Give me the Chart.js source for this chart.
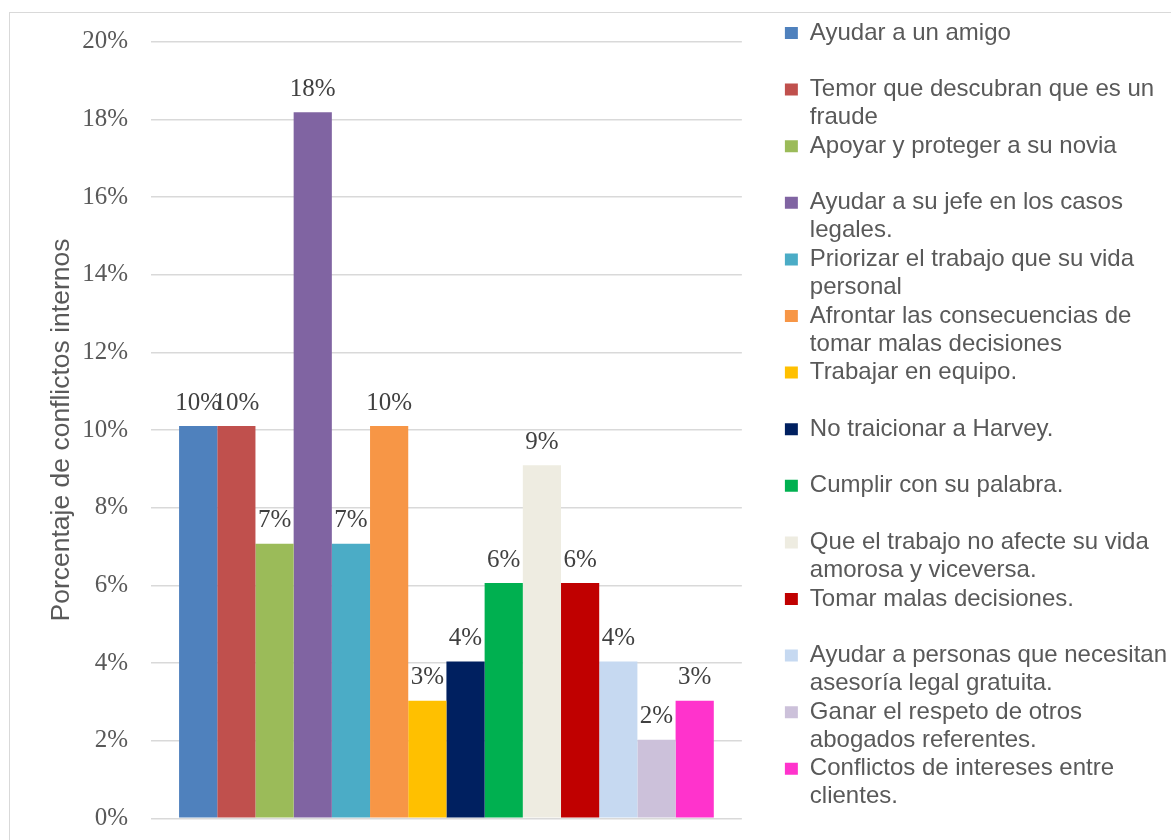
<!DOCTYPE html>
<html>
<head>
<meta charset="utf-8">
<script src="https://cdn.jsdelivr.net/npm/chart.js@4.4.1/dist/chart.umd.min.js"></script>
<style>
  html, body { margin: 0; padding: 0; background: #ffffff; overflow: hidden; width: 1171px; height: 840px; }
  #wrap { position: absolute; left: 9px; top: 12px; width: 1175px; height: 830px; border: 1px solid #d9d9d9; background: #fff; }
  #c { display: block; }
</style>
</head>
<body>
<div id="wrap"><canvas id="c" width="1167" height="830"></canvas></div>
<script>
// ---- data ----
const seriesLabels = [
  ["Ayudar a un amigo", ""],
  ["Temor que descubran que es un", "fraude"],
  ["Apoyar y proteger a su novia", ""],
  ["Ayudar a su jefe en los casos", "legales."],
  ["Priorizar el trabajo que su vida", "personal"],
  ["Afrontar las consecuencias de", "tomar malas decisiones"],
  ["Trabajar en equipo.", ""],
  ["No traicionar a Harvey.", ""],
  ["Cumplir con su palabra.", ""],
  ["Que el trabajo no afecte su vida", "amorosa y viceversa."],
  ["Tomar malas decisiones.", ""],
  ["Ayudar a personas que necesitan", "asesoría legal gratuita."],
  ["Ganar el respeto de otros", "abogados referentes."],
  ["Conflictos de intereses entre", "clientes."]
];
const values = [10.1, 10.1, 7.07, 18.18, 7.07, 10.1, 3.03, 4.04, 6.06, 9.09, 6.06, 4.04, 2.02, 3.03];
const colors = ["#4F81BD", "#C0504D", "#9BBB59", "#8064A2", "#4BACC6", "#F79646", "#FFC000",
                "#002060", "#00B050", "#EEECE1", "#C00000", "#C6D9F1", "#CCC1DA", "#FF33CC"];
const categoryLabels = [""];
const yAxisTitle = "Porcentaje de conflictos internos";

// ---- chart ----
const datasets = seriesLabels.map((lab, i) => ({
  label: lab,
  data: [values[i]],
  backgroundColor: colors[i],
  borderWidth: 0,
  categoryPercentage: 0.905,
  barPercentage: 1.0
}));

const serifFont = '"Liberation Serif", "DejaVu Serif", serif';

const dataLabelPlugin = {
  id: 'dataLabels',
  afterDatasetsDraw(chart) {
    const ctx = chart.ctx;
    ctx.save();
    ctx.font = '25px ' + serifFont;
    ctx.fillStyle = '#404040';
    ctx.textAlign = 'center';
    ctx.textBaseline = 'middle';
    chart.data.datasets.forEach((ds, i) => {
      const meta = chart.getDatasetMeta(i);
      meta.data.forEach((el, j) => {
        const v = ds.data[j];
        ctx.fillText(Math.round(v) + '%', el.x, el.y - 23);
      });
    });
    ctx.restore();
  }
};

new Chart(document.getElementById('c'), {
  type: 'bar',
  data: { labels: categoryLabels, datasets: datasets },
  options: {
    responsive: false,
    animation: false,
    layout: { padding: { top: 7.4, left: 0, right: 0, bottom: 0 } },
    plugins: {
      tooltip: { enabled: false },
      legend: {
        position: 'right',
        align: 'start',
        maxWidth: 500,
        labels: {
          boxWidth: 13,
          boxHeight: 12,
          padding: 0.6,
          color: '#595959',
          font: { family: '"Liberation Sans", Arial, sans-serif', size: 24, lineHeight: '28px' }
        }
      }
    },
    scales: {
      x: {
        type: 'category',
        position: 'bottom',
        grid: { display: false },
        border: { display: false },
        ticks: { display: false },
        afterFit(s) { s.height = 24.7; s.paddingLeft = 0; s.paddingRight = 0; }
      },
      xTop: {
        type: 'linear',
        position: 'top',
        display: true,
        grid: { display: false },
        border: { display: false },
        ticks: { display: false },
        afterFit(s) { s.height = 21.3; s.paddingLeft = 0; s.paddingRight = 0; }
      },
      y: {
        type: 'linear',
        position: 'left',
        min: 0,
        max: 20,
        ticks: {
          stepSize: 2,
          padding: 23,
          color: '#595959',
          font: { family: serifFont, size: 25 },
          callback: (v) => v + '%'
        },
        grid: { color: '#d9d9d9', lineWidth: 1.5, drawTicks: false },
        border: { display: false },
        title: {
          display: true,
          text: yAxisTitle,
          color: '#595959',
          font: { family: '"Liberation Sans", Arial, sans-serif', size: 26.5, lineHeight: 1.2 },
          padding: { top: 36.1, bottom: 0 }
        },
        afterFit(s) { s.width = 141; s.paddingTop = 0; s.paddingBottom = 0; }
      },
      y2: {
        type: 'linear',
        position: 'right',
        display: true,
        grid: { display: false },
        border: { display: false },
        ticks: { display: false },
        afterFit(s) { s.width = 42.4; s.paddingTop = 0; s.paddingBottom = 0; }
      }
    }
  },
  plugins: [dataLabelPlugin]
});
</script>
</body>
</html>
